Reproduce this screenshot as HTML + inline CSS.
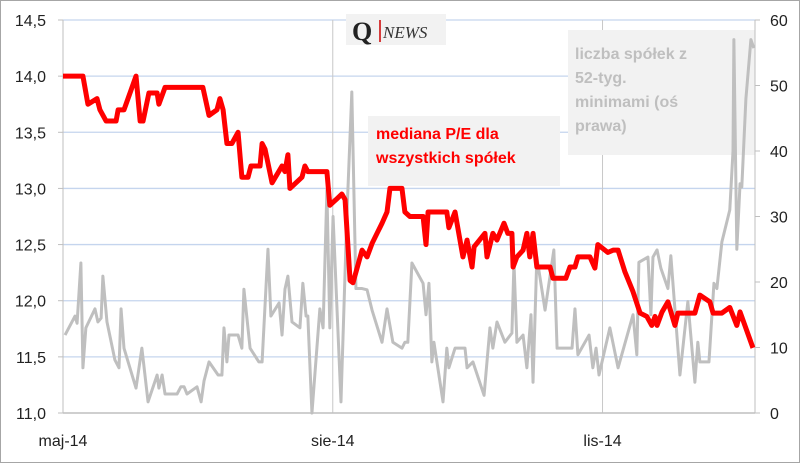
<!DOCTYPE html>
<html><head><meta charset="utf-8"><style>
body{margin:0;background:#fff}
svg{display:block;font-family:"Liberation Sans",sans-serif}
</style></head><body>
<svg width="800" height="463" id="c">
<rect x="0.5" y="0.5" width="799" height="462" fill="#fff" stroke="#a6a6a6"/>
<g id="grid"></g>
<g>
<rect x="346" y="14" width="100" height="31" fill="#f2f2f2"/>
<text x="352" y="40" font-family="Liberation Serif,serif" font-weight="bold" font-size="26" fill="#222">Q</text>
<line x1="380" y1="20" x2="380" y2="42" stroke="#c00" stroke-width="1.5"/>
<text x="383" y="38" font-family="Liberation Serif,serif" font-style="italic" font-size="17" fill="#333">NEWS</text>
</g>
<g>
<rect x="368" y="116" width="192" height="70" fill="#f2f2f2"/>
<text x="376" y="139" font-size="16" font-weight="bold" fill="#ff0000">mediana P/E dla</text>
<text x="376" y="163" font-size="16" font-weight="bold" fill="#ff0000">wszystkich spółek</text>
</g>
<g>
<rect x="568" y="30" width="187" height="125" fill="#f2f2f2"/>
<text x="575" y="59" font-size="16" font-weight="bold" fill="#bfbfbf">liczba spółek z</text>
<text x="575" y="83" font-size="16" font-weight="bold" fill="#bfbfbf">52-tyg.</text>
<text x="575" y="107" font-size="16" font-weight="bold" fill="#bfbfbf">minimami (oś</text>
<text x="575" y="131" font-size="16" font-weight="bold" fill="#bfbfbf">prawa)</text>
</g>
<g id="axes"></g>
<g id="series"></g>
</svg>
<script>
const leftTicks=["11,0","11,5","12,0","12,5","13,0","13,5","14,0","14,5"];
const leftTickValues=[11,11.5,12,12.5,13,13.5,14,14.5];
const rightTicks=[0,10,20,30,40,50,60];
const xLabels=["maj-14","sie-14","lis-14"];
const xLabelDays=[0,92,184];
const peDays=[0,6.8,8.5,11.6,12.6,14.7,18.1,18.8,20.8,24.9,26.3,27.3,29.3,32.1,32.7,34.8,47.7,49.8,52.5,53.5,54.6,55.9,57.6,59.7,61,63.1,64.1,67.2,67.9,68.9,71.3,74.7,75.7,76.7,77.4,81.5,82.5,83.5,90,91,93.1,95.1,96.2,97.9,98.9,102,103.7,105.4,108.8,110.5,111.5,115.6,116.6,118.3,122.8,123.8,124.5,130.9,131.6,133.7,136.4,137.8,139.5,140.2,143.9,144.6,146.6,148,150.4,151.7,153.1,153.5,154.8,156.9,158.2,159.2,160.3,161.6,166.1,167.1,171.5,172.9,174.6,175.6,179.7,181.4,182.4,185.8,187.6,189.3,191.6,194.4,196.8,199.1,200.8,201.9,202.6,204.3,206.3,208.7,209.7,215.5,217.2,220.6,221.7,224.7,227.4,229.8,230.9,235.3];
const peValues=[14,14,13.75,13.8,13.7,13.6,13.6,13.7,13.7,14,13.6,13.6,13.85,13.85,13.75,13.9,13.9,13.65,13.7,13.8,13.7,13.4,13.4,13.5,13.1,13.1,13.2,13.2,13.4,13.35,13.05,13.2,13.15,13.3,13,13.1,13.2,13.15,13.15,12.85,12.9,12.95,12.9,12.18,12.16,12.45,12.39,12.51,12.69,12.79,13,13,12.79,12.75,12.75,12.5,12.79,12.79,12.65,12.79,12.39,12.54,12.3,12.48,12.6,12.39,12.6,12.54,12.69,12.6,12.6,12.3,12.39,12.45,12.6,12.39,12.6,12.3,12.3,12.2,12.2,12.3,12.3,12.39,12.39,12.29,12.5,12.43,12.45,12.45,12.26,12.08,11.89,11.86,11.78,11.86,11.78,11.9,11.99,11.78,11.89,11.89,12.05,11.99,11.89,11.89,11.94,11.78,11.9,11.58];
const minDays=[0.7,4.1,4.8,6.1,6.8,7.8,10.9,11.9,13,13.6,15,17.7,19.1,19.8,20.8,24.9,26.9,29,32.1,32.7,33.8,34.8,38.9,40.2,41.3,42.3,45.7,47.1,48.1,49.8,52.9,54.2,54.9,55.9,56.6,59.7,61,61.7,63.8,66.8,67.9,69.9,70.9,73.7,74.7,75.7,76.7,78.1,80.8,81.8,82.9,83.5,84.9,87.6,88.7,90,91,92.1,94.8,96.8,98.5,99.9,102,103.7,105.4,108.8,110.5,112.5,115.6,116.6,117.6,119,122.8,123.8,124.8,125.8,126.5,129.6,130.9,131.6,133.7,137.1,137.8,139.8,143.6,145.6,146.6,148,150.7,153.1,153.8,154.8,156.9,158.2,159.6,160.3,161.6,164.4,167.4,168.5,173.6,174.6,175.6,179.4,180.7,181.8,182.8,186.5,189.3,194.4,195.7,196.4,199.5,200.5,201.2,202.6,203.9,206.3,207.3,210.4,213.1,215.5,216.5,217.2,220.3,222,223,224.7,227.4,228.5,228.8,229.8,230.9,231.5,232.9,234.6,235.6];
const minValues=[11.9,14.8,13.7,22.9,6.9,13,15.9,13.9,14.5,20.9,13.9,8.1,6.9,15.9,9.9,3.8,9.9,1.7,5.8,3.8,5.8,2.9,2.9,4,4,2.9,4,1.7,4.9,7.8,5.8,5.8,13,7.8,11.9,11.9,9.9,18.9,9.9,7.8,7.8,25,14.8,16.8,11.9,18.9,20.9,13.9,13,19.8,14.8,14.8,0,15.9,13,34,13,30,1.7,30,49,19,19,18.8,15.7,10.8,15.9,10.8,9.9,10.8,10.8,22.9,19.8,15,19.8,7.8,10.8,1.7,9.9,6.9,9.9,9.9,6.9,7.8,2.7,13,9.9,13.9,10.8,12.2,22.9,10.8,11.9,6.9,15,4.7,23.8,15.7,24.9,9.9,9.9,15.9,8.9,11.9,6.9,9.9,5.8,13,6.9,15,8.9,23,23.8,15,23.8,24.9,22.1,19,24,5.8,17,4.7,10.8,7.8,7.8,19.8,19,26.1,31,40,57,25,35,34.5,48,57,55.7];

const NS="http://www.w3.org/2000/svg";
const X0=63,X1=755,Y0=413,Y1=20,DMAX=236;
const xs=d=>X0+d/DMAX*(X1-X0);
const yl=v=>Y0-(v-11)/3.5*(Y0-Y1);
const yr=v=>Y0-v/60*(Y0-Y1);
function mk(tag,attrs,parent,txt){const e=document.createElementNS(NS,tag);for(const k in attrs)e.setAttribute(k,attrs[k]);if(txt!==undefined)e.textContent=txt;parent.appendChild(e);return e;}
const grid=document.getElementById('grid'),axes=document.getElementById('axes'),ser=document.getElementById('series');
leftTickValues.forEach((v,i)=>{
 if(i>0){const g=mk('line',{x1:X0,x2:X1,y1:yl(v),y2:yl(v),stroke:'#c5d5ee','stroke-width':1.3},grid);
 
 }
 const t=mk('text',{x:46,y:yl(v)+6,'text-anchor':'end','font-size':16,fill:'#222'},axes,leftTicks[i]);
 
 
 mk('line',{x1:X0-5,x2:X0,y1:yl(v),y2:yl(v),stroke:'#bfbfbf'},axes);
});
rightTicks.forEach(v=>{
 const t=mk('text',{x:770,y:yr(v)+6,'font-size':16,fill:'#222'},axes,String(v));
 
 
 mk('line',{x1:X1,x2:X1+5,y1:yr(v),y2:yr(v),stroke:'#bfbfbf'},axes);
});
xLabels.forEach((l,i)=>{
 const x=xs(xLabelDays[i]);
 if(i>0){const v=mk('line',{x1:x,x2:x,y1:Y1,y2:Y0,stroke:'#c8c8c8'},grid);
 
 }
 const t=mk('text',{x:x,y:446,'text-anchor':'middle','font-size':16,fill:'#222'},axes,l);
 
 
});
mk('line',{x1:X0,x2:X0,y1:Y1,y2:Y0,stroke:'#bfbfbf'},axes);
mk('line',{x1:X1,x2:X1,y1:Y1,y2:Y0,stroke:'#bfbfbf'},axes);
mk('line',{x1:X0,x2:X1,y1:Y0,y2:Y0,stroke:'#bfbfbf','stroke-width':1.5},axes);
const gp=mk('polyline',{points:minDays.map((d,i)=>xs(d)+','+yr(minValues[i])).join(' '),fill:'none',stroke:'#bfbfbf','stroke-width':3,'stroke-linejoin':'round'},ser);


const rp=mk('polyline',{points:peDays.map((d,i)=>xs(d)+','+yl(peValues[i])).join(' '),fill:'none',stroke:'#ff0000','stroke-width':5,'stroke-linejoin':'round'},ser);


</script>
</body></html>
